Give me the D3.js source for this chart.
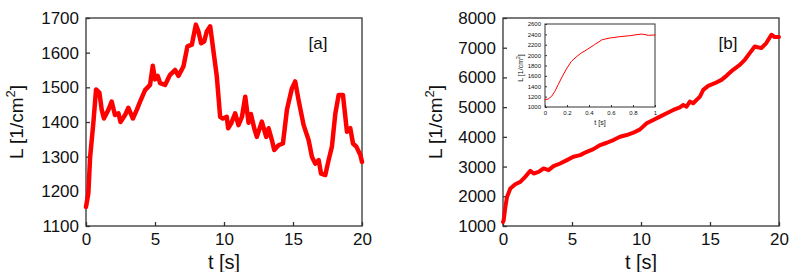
<!DOCTYPE html>
<html lang="en">
    <head>
        <meta charset="utf-8">
        <title>L versus t</title>
        <script type="text/javascript" src="https://d3js.org/d3.v7.min.js"></script>
        <style>
            body { margin: 0; background: #fff; }
            text { font-family: "Liberation Sans", Arial, sans-serif; fill: #111; }
        </style>
    </head>
    <body>
        <script type="text/javascript">

        // data
        const aTime = [0, 0.17, 0.3, 0.53, 0.73, 0.97, 1.14, 1.3, 1.62, 1.86, 2.1, 2.35, 2.5, 2.83, 3.07, 3.4, 3.68, 3.92, 4.28, 4.64, 4.84, 5.0, 5.2, 5.37, 5.73, 6.09, 6.46, 6.7, 7.06, 7.35, 7.67, 7.96, 8.15, 8.34, 8.56, 8.75, 9.0, 9.24, 9.48, 9.72, 9.92, 10.2, 10.3, 10.52, 10.81, 11.05, 11.3, 11.54, 11.78, 11.95, 12.19, 12.38, 12.74, 13.06, 13.23, 13.47, 13.64, 13.95, 14.27, 14.56, 14.92, 15.16, 15.4, 15.77, 16.13, 16.37, 16.61, 16.86, 17.03, 17.34, 17.58, 17.82, 18.07, 18.31, 18.62, 18.91, 19.15, 19.35, 19.59, 19.88, 20];
        const aLength = [1155, 1194, 1300, 1396, 1494, 1485, 1435, 1410, 1435, 1459, 1420, 1425, 1400, 1420, 1441, 1410, 1435, 1459, 1492, 1507, 1562, 1523, 1533, 1512, 1507, 1536, 1550, 1533, 1560, 1618, 1623, 1681, 1661, 1627, 1632, 1661, 1676, 1603, 1531, 1415, 1410, 1415, 1382, 1396, 1425, 1391, 1415, 1473, 1398, 1423, 1382, 1357, 1401, 1357, 1382, 1348, 1319, 1333, 1338, 1435, 1497, 1517, 1464, 1391, 1348, 1300, 1280, 1290, 1251, 1247, 1290, 1329, 1425, 1478, 1478, 1372, 1382, 1338, 1329, 1305, 1285];

        const bTime = [0, 0.05, 0.17, 0.29, 0.53, 0.89, 1.25, 1.61, 1.98, 2.22, 2.58, 2.94, 3.3, 3.66, 4.14, 4.63, 5.1, 5.59, 6.07, 6.55, 7.04, 7.52, 8.0, 8.48, 8.96, 9.45, 9.93, 10.41, 10.89, 11.37, 11.86, 12.34, 12.82, 13.06, 13.3, 13.54, 13.78, 14.27, 14.51, 14.87, 15.35, 15.83, 16.19, 16.67, 17.16, 17.52, 17.88, 18.24, 18.72, 19.08, 19.45, 19.69, 20];
        const bLength = [1140, 1191, 1641, 1979, 2260, 2407, 2485, 2654, 2857, 2767, 2823, 2936, 2879, 3014, 3104, 3217, 3330, 3386, 3498, 3588, 3723, 3802, 3892, 4005, 4061, 4140, 4252, 4455, 4567, 4680, 4793, 4905, 4995, 5074, 5018, 5186, 5130, 5355, 5580, 5715, 5805, 5918, 6053, 6255, 6424, 6593, 6818, 7043, 6987, 7156, 7437, 7358, 7358];

        const insetTime = [0, 0.03, 0.06, 0.09, 0.12, 0.15, 0.2, 0.24, 0.29, 0.33, 0.39, 0.45, 0.52, 0.59, 0.68, 0.77, 0.88, 0.94, 1.0];
        const insetLength = [1141, 1154, 1206, 1302, 1431, 1559, 1752, 1880, 1977, 2041, 2118, 2202, 2298, 2330, 2356, 2375, 2407, 2382, 2388];

        const tTicks = [0, 5, 10, 15, 20];
        const aTicks = [1100, 1200, 1300, 1400, 1500, 1600, 1700];
        const bTicks = [1000, 2000, 3000, 4000, 5000, 6000, 7000, 8000];
        const insetTTicks = [0, 0.2, 0.4, 0.6, 0.8, 1];
        const insetLTicks = [1000, 1200, 1400, 1600, 1800, 2000, 2200, 2400, 2600];

        const width = 806;
        const height = 272;

        const svg = d3.select("body")
                    .append("svg")
                    .attr("width", width)
                    .attr("height", height);

        // one framed panel, gnuplot style: ticks inside, on left and bottom only
        function panel(opt) {
            const x = d3.scaleLinear().domain(opt.xDomain).range([opt.left, opt.right]);
            const y = d3.scaleLinear().domain(opt.yDomain).range([opt.bottom, opt.top]);

            const g = svg.append("g");

            g.append("rect")
                .attr("x", opt.left)
                .attr("y", opt.top)
                .attr("width", opt.right - opt.left)
                .attr("height", opt.bottom - opt.top)
                .attr("fill", "none")
                .attr("stroke", "#333")
                .attr("stroke-width", opt.frame);

            const bottomAxis = d3.axisBottom(x)
                .tickValues(opt.xTicks)
                .tickSizeInner(-opt.tick)
                .tickSizeOuter(0)
                .tickPadding(opt.pad)
                .tickFormat(opt.xFormat);
            const gx = g.append("g")
                .attr("transform", "translate(0," + opt.bottom + ")")
                .call(bottomAxis);

            const leftAxis = d3.axisLeft(y)
                .tickValues(opt.yTicks)
                .tickSizeInner(-opt.tick)
                .tickSizeOuter(0)
                .tickPadding(opt.pad)
                .tickFormat(d3.format("d"));
            const gy = g.append("g")
                .attr("transform", "translate(" + opt.left + ",0)")
                .call(leftAxis);

            [gx, gy].forEach(a => {
                a.select(".domain").remove();
                a.selectAll("line").attr("stroke", "#333").attr("stroke-width", opt.frame);
                a.selectAll("text")
                    .attr("font-size", opt.font)
                    .attr("font-family", "Liberation Sans, Arial, sans-serif")
                    .attr("fill", "#111");
            });

            const line = d3.line()
                .x((d, i) => x(opt.xs[i]))
                .y(d => y(d));

            g.append("path")
                .datum(opt.ys)
                .attr("d", line)
                .attr("fill", "none")
                .attr("stroke", "#ff0000")
                .attr("stroke-width", opt.lineWidth)
                .attr("stroke-linejoin", "round")
                .attr("stroke-linecap", "round");

            return g;
        }

        function yLabel(x, y, size, supSize) {
            const t = svg.append("text")
                .attr("transform", "translate(" + x + "," + y + ") rotate(-90)")
                .attr("text-anchor", "middle")
                .attr("font-size", size)
                .attr("fill", "#111");
            t.append("tspan").text("L [1/cm");
            t.append("tspan").attr("font-size", supSize).attr("dy", -size * 0.4).text("2");
            t.append("tspan").attr("dy", size * 0.4).text("]");
        }

        //panel a
        panel({
            left: 86, right: 362, top: 18, bottom: 226,
            xDomain: [0, 20], yDomain: [1100, 1700],
            xTicks: tTicks, yTicks: aTicks, xFormat: d3.format("d"),
            xs: aTime, ys: aLength,
            tick: 4, pad: 7, font: 17, frame: 1.3, lineWidth: 4.5
        });
        yLabel(23, 122, 19, 13);
        svg.append("text").attr("x", 318).attr("y", 49).attr("text-anchor", "middle")
            .attr("font-size", 17).attr("fill", "#111").text("[a]");
        svg.append("text").attr("x", 224).attr("y", 269).attr("text-anchor", "middle")
            .attr("font-size", 20).attr("fill", "#111").text("t [s]");

        //panel b
        panel({
            left: 503, right: 779, top: 18, bottom: 226,
            xDomain: [0, 20], yDomain: [1000, 8000],
            xTicks: tTicks, yTicks: bTicks, xFormat: d3.format("d"),
            xs: bTime, ys: bLength,
            tick: 4, pad: 7, font: 17, frame: 1.3, lineWidth: 4
        });
        yLabel(442, 122, 19, 13);
        svg.append("text").attr("x", 728).attr("y", 49).attr("text-anchor", "middle")
            .attr("font-size", 17).attr("fill", "#111").text("[b]");
        svg.append("text").attr("x", 641).attr("y", 269).attr("text-anchor", "middle")
            .attr("font-size", 20).attr("fill", "#111").text("t [s]");

        //inset
        panel({
            left: 545, right: 655, top: 24, bottom: 107,
            xDomain: [0, 1], yDomain: [1000, 2600],
            xTicks: insetTTicks, yTicks: insetLTicks, xFormat: d => d,
            xs: insetTime, ys: insetLength,
            tick: 2, pad: 4, font: 6, frame: 1, lineWidth: 1
        });
        yLabel(523, 68, 7, 5);
        svg.append("text").attr("x", 600).attr("y", 125).attr("text-anchor", "middle")
            .attr("font-size", 7).attr("fill", "#111").text("t [s]");

        </script>
    </body>
</html>
